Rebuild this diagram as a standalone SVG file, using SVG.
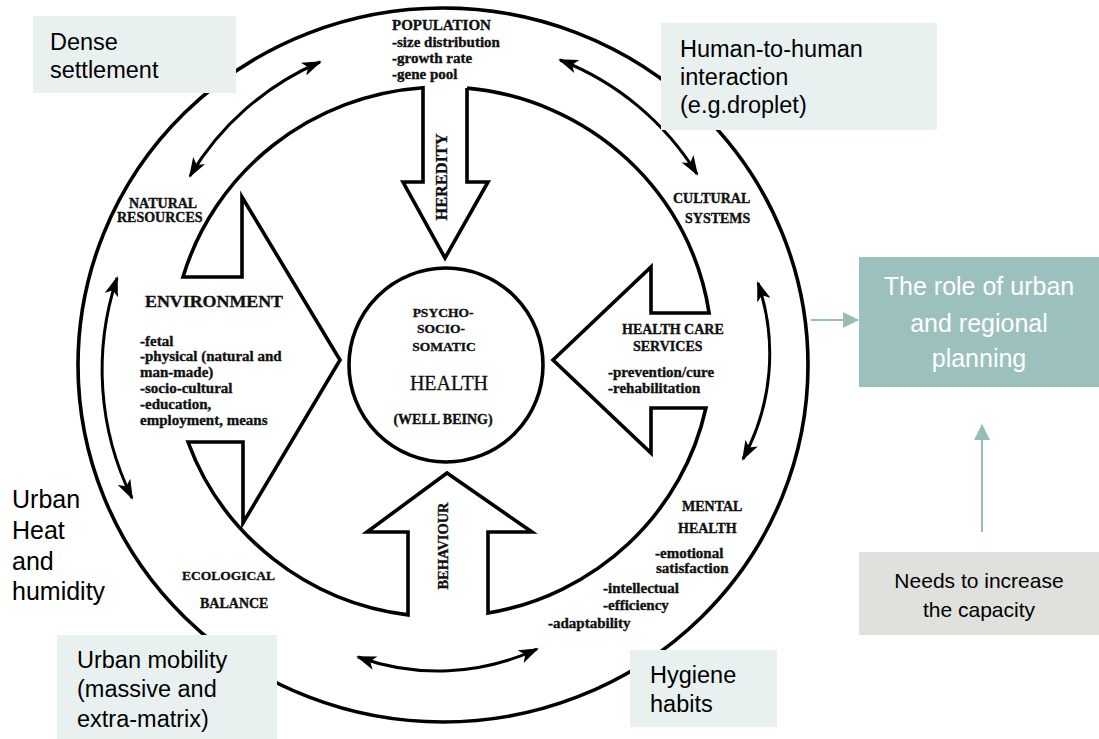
<svg xmlns="http://www.w3.org/2000/svg" width="1099" height="739" viewBox="0 0 1099 739">
<defs>
<style>
.ln{fill:none;stroke:#000;stroke-width:3.6;stroke-linejoin:miter}
.dbl{fill:none;stroke:#000;stroke-width:3;marker-start:url(#ah);marker-end:url(#ah)}
.sr{font-family:"Liberation Serif","DejaVu Serif",serif;font-weight:bold;fill:#111;stroke:#111;stroke-width:0.35}
.sans{font-family:"Liberation Sans",Arial,sans-serif;fill:#000}
.lbox{fill:#E9F1F0}
.teal{fill:none;stroke:#96BDBA;stroke-width:2;marker-end:url(#ta)}
</style>
<marker id="ah" viewBox="0 0 20 14" refX="18" refY="7" markerWidth="20" markerHeight="14" markerUnits="userSpaceOnUse" orient="auto-start-reverse">
<path d="M0,0 L20,7 L0,14 L5,7 Z" fill="#000"/>
</marker>
<marker id="ta" viewBox="0 0 16 16" refX="15" refY="8" markerWidth="16" markerHeight="16" markerUnits="userSpaceOnUse" orient="auto">
<path d="M0,0 L16,8 L0,16 Z" fill="#96BDBA"/>
</marker>
</defs>
<rect width="1099" height="739" fill="#fff"/>

<g id="outer-ring">
<ellipse class="ln" cx="443" cy="365" rx="365" ry="357"/>
</g>

<g id="inner-arrows">
<path class="ln" d="M467,88.1 L467,182 L488,182 L445,258 L403,182 L423,182 L423,87.7 A270 265 0 0 0 183,277 L242,277 L242,197 L340,360 L243,523 L243,442 L188,442 A270 265 0 0 0 408,614.9 L408,532 L367,532 L447,473 L532,532 L488,532 L488,613.1 A270 265 0 0 0 705.9,408 L651,408 L651,453 L553,360 L651,267 L651,313 L709.1,313 A270 265 0 0 0 467,88.1"/>
</g>

<g id="health-center">
<circle class="ln" cx="446" cy="365" r="97"/>
<text class="sr" x="443" y="317" font-size="13.5" text-anchor="middle">PSYCHO-</text>
<text class="sr" x="441" y="333" font-size="13.5" text-anchor="middle">SOCIO-</text>
<text class="sr" x="444" y="351" font-size="13.5" text-anchor="middle">SOMATIC</text>
<text x="449" y="390" font-size="20" text-anchor="middle" font-family="Liberation Serif, DejaVu Serif, serif" fill="#111" stroke="#111" stroke-width="0.3">HEALTH</text>
<text class="sr" x="443" y="424" font-size="14" text-anchor="middle">(WELL BEING)</text>
</g>

<g id="population">
<text class="sr" x="392" y="30" font-size="15">POPULATION</text>
<text class="sr" x="392" y="47" font-size="15">-size distribution</text>
<text class="sr" x="392" y="63" font-size="15">-growth rate</text>
<text class="sr" x="392" y="79" font-size="15">-gene pool</text>
</g>

<g id="heredity">
<text class="sr" font-size="16" text-anchor="middle" textLength="87" lengthAdjust="spacingAndGlyphs" transform="translate(447,177) rotate(-90)">HEREDITY</text>
</g>

<g id="behaviour">
<text class="sr" font-size="14" text-anchor="middle" textLength="87" lengthAdjust="spacingAndGlyphs" transform="translate(448,546) rotate(-90)">BEHAVIOUR</text>
</g>

<g id="natural-resources">
<text class="sr" x="129" y="208" font-size="14">NATURAL</text>
<text class="sr" x="117" y="222" font-size="14">RESOURCES</text>
</g>

<g id="cultural-systems">
<text class="sr" x="673" y="203" font-size="14">CULTURAL</text>
<text class="sr" x="685" y="223" font-size="14">SYSTEMS</text>
</g>

<g id="environment">
<text class="sr" x="145" y="307" font-size="16" textLength="138" lengthAdjust="spacingAndGlyphs">ENVIRONMENT</text>
<text class="sr" x="140" y="346" font-size="15">-fetal</text>
<text class="sr" x="140" y="361" font-size="15">-physical (natural and</text>
<text class="sr" x="140" y="377" font-size="15">man-made)</text>
<text class="sr" x="140" y="393" font-size="15">-socio-cultural</text>
<text class="sr" x="140" y="409" font-size="15">-education,</text>
<text class="sr" x="140" y="425" font-size="15">employment, means</text>
</g>

<g id="health-care">
<text class="sr" x="622" y="334" font-size="14">HEALTH CARE</text>
<text class="sr" x="633" y="351" font-size="14">SERVICES</text>
<text class="sr" x="608" y="377" font-size="15">-prevention/cure</text>
<text class="sr" x="608" y="393" font-size="15">-rehabilitation</text>
</g>

<g id="mental-health">
<text class="sr" x="682" y="511" font-size="14">MENTAL</text>
<text class="sr" x="678" y="533" font-size="14">HEALTH</text>
<text class="sr" x="655" y="558" font-size="15">-emotional</text>
<text class="sr" x="656" y="573" font-size="15">satisfaction</text>
<text class="sr" x="603" y="593" font-size="15">-intellectual</text>
<text class="sr" x="603" y="610" font-size="15">-efficiency</text>
<text class="sr" x="548" y="628" font-size="15">-adaptability</text>
</g>

<g id="ecological-balance">
<text class="sr" x="182" y="580" font-size="13.5">ECOLOGICAL</text>
<text class="sr" x="200" y="608" font-size="14">BALANCE</text>
</g>

<g id="connectors">
<path class="dbl" d="M190,176 A280 280 0 0 1 320,62"/>
<path class="dbl" d="M560,60 A280 280 0 0 1 697,174"/>
<path class="dbl" d="M758,283 A220 220 0 0 1 743,459"/>
<path class="dbl" d="M537,649 A235 235 0 0 1 358,657"/>
<path class="dbl" d="M132,498 A290 290 0 0 1 117,278"/>
<line class="teal" x1="811" y1="320" x2="858" y2="320"/>
<line class="teal" x1="982" y1="532" x2="982" y2="425"/>
</g>

<g id="dense-settlement">
<rect class="lbox" x="33" y="16" width="203" height="77"/>
<text class="sans" x="50" y="50" font-size="23.5">Dense</text>
<text class="sans" x="50" y="78" font-size="23.5">settlement</text>
</g>

<g id="human-interaction">
<rect class="lbox" x="661" y="23" width="276" height="107"/>
<text class="sans" x="680" y="57" font-size="23.5">Human-to-human</text>
<text class="sans" x="680" y="85" font-size="23.5">interaction</text>
<text class="sans" x="680" y="113" font-size="23.5">(e.g.droplet)</text>
</g>

<g id="urban-heat">
<text class="sans" x="12" y="508" font-size="25">Urban</text>
<text class="sans" x="12" y="539" font-size="25">Heat</text>
<text class="sans" x="12" y="570" font-size="25">and</text>
<text class="sans" x="12" y="600" font-size="25">humidity</text>
</g>

<g id="urban-mobility">
<rect class="lbox" x="57" y="635" width="220" height="104"/>
<text class="sans" x="77" y="668" font-size="23.5">Urban mobility</text>
<text class="sans" x="77" y="697" font-size="23.5">(massive and</text>
<text class="sans" x="77" y="727" font-size="23.5">extra-matrix)</text>
</g>

<g id="hygiene">
<rect class="lbox" x="630" y="650" width="147" height="77"/>
<text class="sans" x="650" y="683" font-size="23.5">Hygiene</text>
<text class="sans" x="650" y="712" font-size="23.5">habits</text>
</g>

<g id="planning-role">
<rect x="859" y="257" width="240" height="130" fill="#9CC0BD"/>
<text class="sans" x="979" y="295" font-size="25" text-anchor="middle" style="fill:#fff">The role of urban</text>
<text class="sans" x="979" y="332" font-size="25" text-anchor="middle" style="fill:#fff">and regional</text>
<text class="sans" x="979" y="367" font-size="25" text-anchor="middle" style="fill:#fff">planning</text>
</g>

<g id="capacity">
<rect x="859" y="552" width="240" height="83" fill="#E0E1DC"/>
<text class="sans" x="979" y="588" font-size="21" text-anchor="middle">Needs to increase</text>
<text class="sans" x="979" y="617" font-size="21" text-anchor="middle">the capacity</text>
</g>
</svg>
